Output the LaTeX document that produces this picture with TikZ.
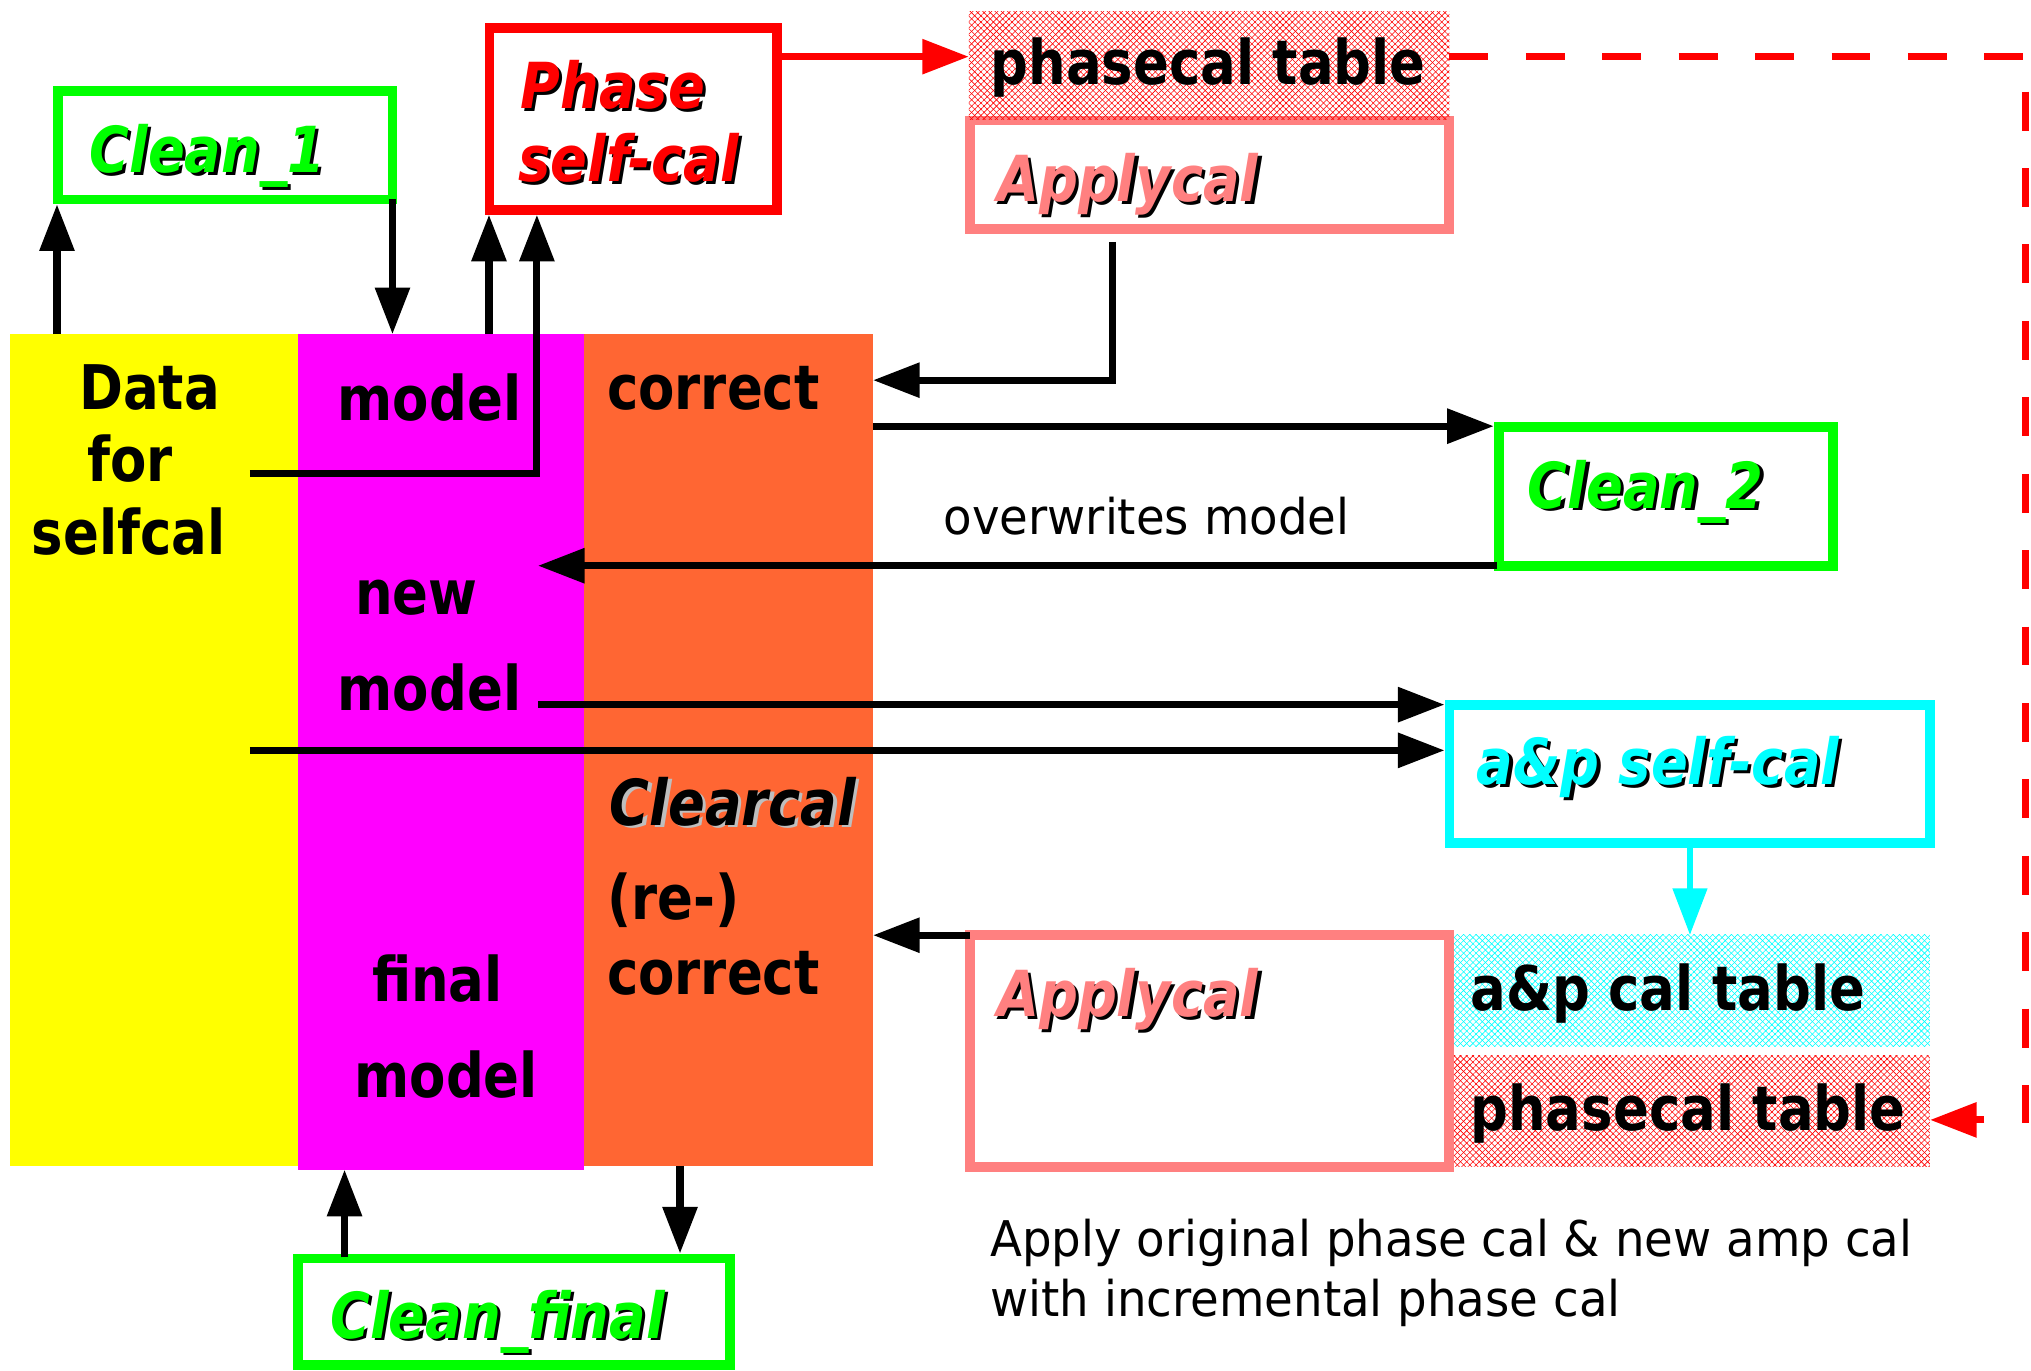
\documentclass[tikz,border=0pt]{standalone}
\usepackage{fontspec}
\setmainfont{DejaVu Sans}
% condensed cuts of DejaVu Sans for the three kinds of text
\newfontfamily\colfamily{DejaVu Sans}[FakeStretch=0.86]
\newfontfamily\boxfamily{DejaVu Sans}[FakeStretch=0.856]
\newfontfamily\notefamily{DejaVu Sans}[FakeStretch=0.948]
\usetikzlibrary{arrows.meta,calc,patterns.meta}

\definecolor{colyellow}{RGB}{255,255,0}
\definecolor{colmagenta}{RGB}{255,0,255}
\definecolor{colorange}{RGB}{255,102,51}
\definecolor{boxgreen}{RGB}{0,255,0}
\definecolor{boxred}{RGB}{255,0,0}
\definecolor{boxpink}{RGB}{255,128,128}
\definecolor{boxcyan}{RGB}{0,255,255}
\definecolor{shadowgray}{RGB}{190,190,190}

% text with a drop shadow: main colour, shadow colour, text
\newcommand\shadowlabel[3]{%
  \makebox[0pt][l]{\hspace{2.5pt}\raisebox{-2.2pt}{\color{#2}#3}}{\color{#1}#3}}
\newcommand\colfont{\colfamily\fontsize{47.5pt}{56pt}\selectfont\bfseries}
\newcommand\boxfont{\boxfamily\fontsize{49pt}{56pt}\selectfont\bfseries\itshape}
\newcommand\notefont{\notefamily\fontsize{38pt}{46pt}\selectfont}

\tikzset{
  column/.style={fill=#1, inner sep=0pt, outer sep=0pt},
  procbox/.style={draw=#1, line width=7.5pt, fill=white, inner sep=0pt},
  hatchbox/.style={inner sep=0pt, outer sep=0pt,
    pattern={Lines[angle=45,distance=3.4pt,line width=0.45pt]}, pattern color=#1,
    postaction={pattern={Lines[angle=-45,distance=3.4pt,line width=0.45pt]}, pattern color=#1}},
  lbl/.style={inner sep=0pt, anchor=base west, font=\colfont},
  slbl/.style={inner sep=0pt, anchor=base west, font=\boxfont},
  note/.style={inner sep=0pt, anchor=base west, font=\notefont},
  conn/.style={line width=5.5pt, -{Triangle[length=36pt,width=26pt]}},
}

\begin{document}
\begin{tikzpicture}[x=1pt, y=-1pt]
\useasboundingbox (0,0) rectangle (1568,1058);

% the three data columns
\node[column=colyellow,  minimum width=222pt, minimum height=642pt] (datacol)  at (119,579) {};
\node[column=colmagenta, minimum width=221pt, minimum height=645pt] (modelcol) at (340.5,580.5) {};
\node[column=colorange,  minimum width=223pt, minimum height=642pt] (corrcol)  at (562.5,579) {};

% processing boxes
\node[procbox=boxgreen, minimum width=258pt,   minimum height=83.5pt]  (clean1)  at (174,112.25) {};
\node[procbox=boxred,   minimum width=222pt,   minimum height=140.5pt] (phasesc) at (489,91.75) {};
\node[procbox=boxpink,  minimum width=369.5pt, minimum height=84pt]    (apply1)  at (933.75,135) {};
\node[procbox=boxgreen, minimum width=258pt,   minimum height=107.5pt] (clean2)  at (1286,383.25) {};
\node[procbox=boxcyan,  minimum width=371pt,   minimum height=107pt]   (apsc)    at (1304.5,597.5) {};
\node[procbox=boxpink,  minimum width=369.5pt, minimum height=179pt]   (apply2)  at (933.75,811.5) {};
\node[procbox=boxgreen, minimum width=333.5pt, minimum height=82.5pt]  (cleanf)  at (396.75,1012.75) {};

% calibration tables
\node[hatchbox=boxred,  minimum width=371pt,   minimum height=84.1pt] (phtab1) at (933.5,50.55) {};
\node[hatchbox=boxcyan, minimum width=367.4pt, minimum height=86.2pt] (aptab)  at (1306.3,764.9) {};
\node[hatchbox=boxred,  minimum width=367.4pt, minimum height=86.2pt] (phtab2) at (1306.3,857.6) {};

% column labels
\node[lbl] (tdata)    at (61,316)    {Data};
\node[lbl] (tfor)     at (67.4,372)  {for};
\node[lbl] (tselfcal) at (24.4,428)  {selfcal};
\node[lbl] (tmodel1)  at (260.6,325) {model};
\node[lbl] (tnew)     at (274,474.5) {new};
\node[lbl] (tmodel2)  at (260.6,548.5) {model};
\node[lbl] (tfinal)   at (287,773)   {final};
\node[lbl] (tmodel3)  at (273.5,847) {model};
\node[lbl] (tcorr1)   at (468.5,316) {correct};
\node[slbl] (tclear)  at (470.7,637) {\shadowlabel{black}{shadowgray}{Clearcal}};
\node[lbl] (tre)      at (468.5,710) {(re-)};
\node[lbl] (tcorr2)   at (468.5,768) {correct};

% box labels
\node[slbl] (tclean1) at (69,133.3)   {\shadowlabel{boxgreen}{black}{Clean\_1}};
\node[slbl] (tphase)  at (401.7,84)   {\shadowlabel{boxred}{black}{Phase}};
\node[slbl] (tphsc)   at (400,140)    {\shadowlabel{boxred}{black}{self-cal}};
\node[slbl] (tapply1) at (769.6,155.7) {\shadowlabel{boxpink}{black}{Applycal}};
\node[slbl] (tclean2) at (1179.4,392.3) {\shadowlabel{boxgreen}{black}{Clean\_2}};
\node[slbl] (tapsc)   at (1140,606)   {\shadowlabel{boxcyan}{black}{a\&p self-cal}};
\node[slbl] (tapply2) at (769.6,785)  {\shadowlabel{boxpink}{black}{Applycal}};
\node[slbl] (tcleanf) at (254.8,1033) {\shadowlabel{boxgreen}{black}{Clean\_final}};

% table labels
\node[lbl] (tph1)   at (764.5,65.6) {phasecal table};
\node[lbl] (taptab) at (1135,779.8) {a\&p cal table};
\node[lbl] (tph2)   at (1135,872.4) {phasecal table};

% notes
\node[note] (tover) at (728.3,413)   {overwrites model};
\node[note] (tcap1) at (764.4,970)   {Apply original phase cal \& new amp cal};
\node[note] (tcap2) at (764.4,1016.5) {with incremental phase cal};

% connectors
\draw[conn] ($(datacol.north west)+(36,0)$) coordinate (a0) -- (a0 |- clean1.south);
\draw[conn] ($(clean1.south east)+(-3.75,-4)$) coordinate (b0) -- (b0 |- modelcol.north);
\draw[conn] ($(modelcol.north west)+(147.5,0)$) coordinate (c0) -- (c0 |- phasesc.south);
\draw[conn] ($(datacol.north west)+(185,107.5)$) -| ($(phasesc.south west)+(40.25,0)$);
\draw[conn, draw=boxred] ($(phasesc.north east)+(0,26)$) coordinate (e0) -- (e0 -| phtab1.west);
\draw[conn, draw=boxred, dash pattern=on 30pt off 29pt]
  ($(phtab1.north east)+(0,35.25)$) -| ($(phtab2.east)+(74,7)$) -- ($(phtab2.east)+(0,7)$);
\draw[conn] ($(apply1.south west)+(113.75,6)$) |- ($(corrcol.north east)+(0,35.5)$);
\draw[conn] ($(corrcol.north east)+(0,71)$) coordinate (h0) -- (h0 -| clean2.west);
\draw[conn] ($(clean2.south west)+(2.5,-4)$) coordinate (i0) -- ($(i0 -| modelcol.north west)+(185.3,0)$);
\draw[conn] ($(modelcol.north west)+(185.3,286)$) coordinate (j0) -- (j0 -| apsc.west);
\draw[conn] ($(datacol.north west)+(185,321.3)$) coordinate (k0) -- (k0 -| apsc.west);
\draw[conn, draw=boxcyan, line width=4.5pt] ($(apsc.south west)+(189.45,0)$) coordinate (l0) -- (l0 |- aptab.north);
\draw[conn] ($(apply2.north west)+(3.75,3.75)$) coordinate (m0) -- (m0 -| corrcol.east);
\draw[conn] ($(cleanf.north west)+(39.75,3)$) coordinate (n0) -- (n0 |- modelcol.south);
\draw[conn] ($(corrcol.south west)+(74,0)$) coordinate (o0) -- (o0 |- cleanf.north);
\end{tikzpicture}
\end{document}
